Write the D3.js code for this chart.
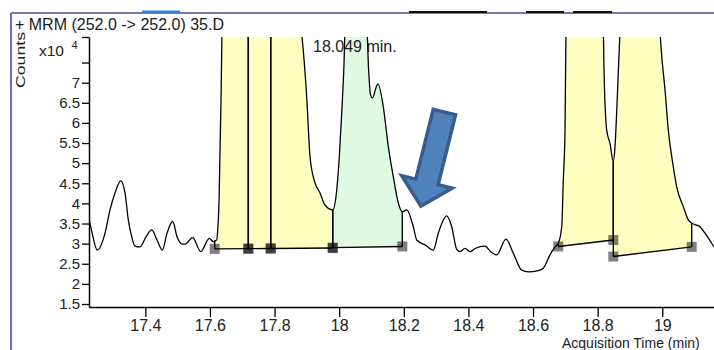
<!DOCTYPE html>
<html>
<head>
<meta charset="utf-8">
<script src="https://cdn.jsdelivr.net/npm/d3@7/dist/d3.min.js"></script>
<style>
  body { margin: 0; background: #fff; }
  svg { display: block; font-family: Arial, "Liberation Sans", sans-serif; }
</style>
</head>
<body>
<div id="chart"></div>
<script>
// retention time (min) and counts (x10^4)
const rt = [
  17.2257, 17.2319, 17.2514, 17.2753, 17.2907, 17.3062, 17.3239, 17.3372, 17.3474, 17.3579,
  17.3681, 17.3836, 17.4022, 17.4198, 17.4362, 17.4526, 17.4672, 17.4848, 17.4981, 17.5145,
  17.5229, 17.5467, 17.5715, 17.5981, 17.6105, 17.6148, 17.6210, 17.6250, 17.6281, 17.6312,
  17.6343, 17.6374, 17.6500, 17.7000, 17.7188, 17.7500, 17.7881, 17.8200, 17.8500, 17.8700,
  17.8841, 17.8995, 17.9098, 17.9252, 17.9407, 17.9561, 17.9800, 17.9924, 18.0004, 18.0079,
  18.0150, 18.0181, 18.0300, 18.0490, 18.0700, 18.0859, 18.0911, 18.0973, 18.1035, 18.1138,
  18.1200, 18.1366, 18.1521, 18.1676, 18.1830, 18.1954, 18.2090, 18.2295, 18.2400, 18.2657,
  18.2914, 18.3068, 18.3328, 18.3483, 18.3638, 18.3740, 18.3895, 18.4050, 18.4205, 18.4514,
  18.4690, 18.4876, 18.5164, 18.5390, 18.5650, 18.5854, 18.6164, 18.6318, 18.6525, 18.6680,
  18.6782, 18.6888, 18.6937, 18.6990, 18.7021, 18.7300, 18.7700, 18.8000, 18.8175, 18.8197,
  18.8280, 18.8382, 18.8485, 18.8537, 18.8609, 18.8692, 18.9000, 18.9400, 18.9700, 18.9930,
  18.9961, 19.0085, 19.0187, 19.0342, 19.0447, 19.0652, 19.0806, 19.0911, 19.1168, 19.1323,
  19.1530, 19.1601
];
const counts = [
  3.61, 3.39, 2.84, 3.26, 3.84, 4.26, 4.56, 4.26, 3.59, 3.17,
  2.94, 2.92, 3.17, 3.34, 3.09, 2.84, 3.26, 3.55, 3.17, 2.99,
  2.99, 3.15, 2.80, 3.13, 3.05, 3.07, 3.09, 3.46, 4.01, 5.33,
  6.57, 8.30, 11.0, 13.5, 14.0, 14.2, 13.6, 12.0, 10.0, 8.9,
  8.2, 6.65, 5.16, 4.51, 4.26, 3.96, 3.84, 4.33, 5.16, 6.25,
  7.49, 8.30, 8.80, 9.10, 8.80, 8.30, 7.32, 6.69, 6.62, 6.87,
  6.97, 6.40, 5.41, 4.66, 4.01, 3.79, 3.84, 3.42, 3.09, 2.97,
  2.84, 3.26, 3.69, 3.42, 2.86, 2.80, 2.88, 2.80, 2.88, 2.94,
  2.80, 2.72, 3.11, 2.76, 2.34, 2.30, 2.33, 2.39, 2.72, 2.92,
  3.01, 3.42, 4.58, 5.82, 8.30, 11.0, 12.0, 10.0, 8.30, 7.32,
  5.82, 5.49, 5.04, 5.41, 6.65, 8.30, 11.0, 12.0, 10.0, 8.30,
  7.89, 6.82, 5.82, 4.91, 4.41, 3.92, 3.59, 3.51, 3.42, 3.26,
  3.01, 2.92
];

// integrated peaks: start/end time and baseline counts at each end
const peakStart = [17.6148, 17.7188, 17.7881, 17.9800, 18.6782, 18.8485];
const peakEnd   = [17.7188, 17.7881, 17.9800, 18.1954, 18.8485, 19.0911];
const baseStart = [2.870, 2.875, 2.880, 2.900, 2.930, 2.680];
const baseEnd   = [2.875, 2.880, 2.890, 2.930, 3.090, 2.920];
const peakKind  = ["other", "other", "other", "selected", "other", "other"];

const xTicks = [17.4, 17.6, 17.8, 18.0, 18.2, 18.4, 18.6, 18.8, 19.0];
const xLabels = ["17.4", "17.6", "17.8", "18", "18.2", "18.4", "18.6", "18.8", "19"];
const yTicks = [1.5, 2, 2.5, 3, 3.5, 4, 4.5, 5, 5.5, 6, 6.5, 7, 7.5];
const yLabels = ["1.5", "2", "2.5", "3", "3.5", "4", "4.5", "5", "5.5", "6", "6.5", "7", ""];

const title = "+ MRM (252.0 -> 252.0) 35.D";
const apexTime = 18.049;
const apexLabel = "18.049 min.";
const arrowTip = [18.253, 3.93];

const W = 714, H = 350;
const kindFill = {other: "#ffffc2", selected: "#e0f9e1"};

const svg = d3.select("#chart").append("svg")
  .attr("width", W)
  .attr("height", H);

const x = d3.scaleLinear().domain([17.2257, 19.1601]).range([89, 714]);
const y = d3.scaleLinear().domain([1.4254, 8.135]).range([307, 37]);

// frame bits of the window
svg.append("line").attr("x1", 11).attr("x2", 11).attr("y1", 13).attr("y2", H)
  .attr("stroke", "#3a3aa8").attr("stroke-width", 1.5);
svg.append("line").attr("x1", 11).attr("x2", W).attr("y1", 13).attr("y2", 13)
  .attr("stroke", "#4a4a9c").attr("stroke-width", 1.5);
svg.append("rect").attr("x", 142).attr("y", 10.5).attr("width", 38).attr("height", 2.5).attr("fill", "#3d7bd6");
[[409, 487], [526, 564], [573, 612]].forEach(s => {
  svg.append("rect").attr("x", s[0]).attr("y", 11).attr("width", s[1] - s[0]).attr("height", 2).attr("fill", "#111");
});

svg.append("defs").append("clipPath").attr("id", "plot")
  .append("rect").attr("x", 89).attr("y", 37).attr("width", W - 89).attr("height", 270);

const series = rt.map((t, i) => ({t: t, v: counts[i]}));
const traceAt = t => {
  const i = d3.bisectLeft(rt, t);
  if (i <= 0) return counts[0];
  if (i >= rt.length) return counts[rt.length - 1];
  const f = (t - rt[i - 1]) / (rt[i] - rt[i - 1]);
  return counts[i - 1] + f * (counts[i] - counts[i - 1]);
};

const plot = svg.append("g").attr("clip-path", "url(#plot)");

// peak fills
peakStart.forEach((t0, k) => {
  const t1 = peakEnd[k], b0 = baseStart[k], b1 = baseEnd[k];
  const base = t => b0 + (b1 - b0) * (t - t0) / (t1 - t0);
  const pts = series.filter(d => d.t >= t0 - 1e-6 && d.t <= t1 + 1e-6);
  const area = d3.area()
    .x(d => x(d.t))
    .y0(d => y(base(d.t)))
    .y1(d => y(d.v))
    .curve(d3.curveMonotoneX);
  plot.append("path").datum(pts)
    .attr("d", area)
    .attr("fill", kindFill[peakKind[k]]);
});

// apex label sits under the lines
svg.append("text")
  .attr("x", x(apexTime) - 42)
  .attr("y", 52)
  .attr("font-size", 16)
  .attr("fill", "#222")
  .text(apexLabel);

// baselines and drop lines
peakStart.forEach((t0, k) => {
  const t1 = peakEnd[k], b0 = baseStart[k], b1 = baseEnd[k];
  plot.append("line")
    .attr("x1", x(t0)).attr("y1", y(b0)).attr("x2", x(t1)).attr("y2", y(b1))
    .attr("stroke", "#000").attr("stroke-width", 1.4);
  [[t0, b0], [t1, b1]].forEach(p => {
    plot.append("line")
      .attr("x1", x(p[0])).attr("x2", x(p[0]))
      .attr("y1", y(p[1])).attr("y2", y(traceAt(p[0])))
      .attr("stroke", "#000").attr("stroke-width", 1.4);
  });
});

// trace
const line = d3.line().x(d => x(d.t)).y(d => y(d.v)).curve(d3.curveMonotoneX);
plot.append("path").datum(series)
  .attr("d", line)
  .attr("fill", "none")
  .attr("stroke", "#000")
  .attr("stroke-width", 1.3);

// start/end markers
peakStart.forEach((t0, k) => {
  [[t0, baseStart[k]], [peakEnd[k], baseEnd[k]]].forEach(p => {
    svg.append("rect")
      .attr("x", x(p[0]) - 5).attr("y", y(p[1]) - 5)
      .attr("width", 10).attr("height", 10)
      .attr("fill", "#000").attr("fill-opacity", 0.5);
  });
});

// axes
const xAxis = d3.axisBottom(x)
  .tickValues(xTicks)
  .tickFormat((d, i) => xLabels[i])
  .tickSize(10).tickPadding(3).tickSizeOuter(0);
const gx = svg.append("g").attr("transform", "translate(0,307)").call(xAxis);
gx.selectAll("text").attr("font-size", 16).attr("fill", "#222");

const yAxis = d3.axisLeft(y)
  .tickValues(yTicks.concat([y.domain()[1]]))
  .tickFormat((d, i) => yLabels[i] || "")
  .tickSize(7).tickPadding(2).tickSizeOuter(0);
const gy = svg.append("g").attr("transform", "translate(89,0)").call(yAxis);
gy.selectAll("text").attr("font-size", 15).attr("fill", "#222");

[gx, gy].forEach(g => {
  g.select(".domain").attr("stroke", "#000").attr("stroke-width", 1.5);
  g.selectAll(".tick line").attr("stroke", "#000").attr("stroke-width", 1.3);
});

// titles
svg.append("text").attr("x", 15).attr("y", 30)
  .attr("font-size", 16).attr("fill", "#1a1a1a").text(title);

svg.append("text")
  .attr("transform", "translate(25,60) rotate(-90)")
  .attr("text-anchor", "middle")
  .attr("font-size", 13)
  .attr("textLength", 56).attr("lengthAdjust", "spacingAndGlyphs")
  .attr("fill", "#222")
  .text("Counts");

svg.append("text").attr("x", 39).attr("y", 55.5)
  .attr("font-size", 15.5).attr("fill", "#222").text("x10");
svg.append("text").attr("x", 71.5).attr("y", 49)
  .attr("font-size", 11).attr("fill", "#222").text("4");

svg.append("text").attr("x", 562).attr("y", 347.5)
  .attr("font-size", 14).attr("fill", "#222")
  .text("Acquisition Time (min)");

// annotation arrow pointing at the small peak
const tipX = x(arrowTip[0]), tipY = y(arrowTip[1]);
const ang = Math.atan2(98.6, -24.6) * 180 / Math.PI;
const arrowShape = [[-97, -11.5], [-25, -11.5], [-25, -26], [0, 0], [-25, 26], [-25, 11.5], [-97, 11.5]];
svg.append("path")
  .attr("transform", `translate(${tipX},${tipY}) rotate(${ang})`)
  .attr("d", d3.line()(arrowShape) + "Z")
  .attr("fill", "#4f81bd")
  .attr("stroke", "#385d8a")
  .attr("stroke-width", 3.5)
  .attr("stroke-linejoin", "miter");
</script>
</body>
</html>
